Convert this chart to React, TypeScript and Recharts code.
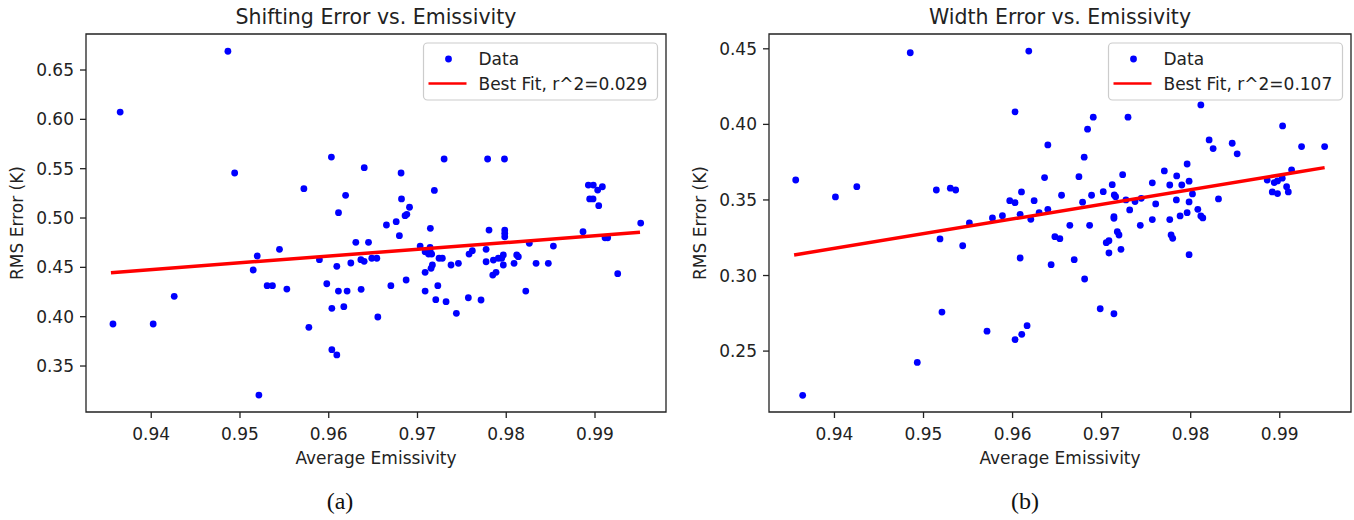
import React from 'react';
import { ScatterChart, Scatter, XAxis, YAxis, ReferenceArea } from 'recharts';

// panel (a): shifting error
const shiftX = [
  0.93569, 0.9365, 0.94022, 0.94259, 0.94864, 0.9494, 0.95149, 0.95194, 0.95213, 0.95306,
  0.95366, 0.95445, 0.95528, 0.9572, 0.95776, 0.95895, 0.95978, 0.9603, 0.96035, 0.96035,
  0.96091, 0.96091, 0.96109, 0.9611, 0.9617, 0.9619, 0.96207, 0.96249, 0.96305, 0.96362,
  0.96365, 0.96399, 0.964, 0.96448, 0.96485, 0.96542, 0.96553, 0.9665, 0.967, 0.9676,
  0.96796, 0.96815, 0.9682, 0.9686, 0.96872, 0.9688, 0.9691, 0.9703, 0.97086, 0.97086,
  0.97086, 0.97142, 0.97142, 0.97145, 0.97125, 0.9716, 0.97153, 0.97168, 0.9719, 0.97206,
  0.97229, 0.97243, 0.9728, 0.973, 0.97322, 0.97378, 0.97438, 0.97461, 0.97573, 0.97581,
  0.97618, 0.97716, 0.97773, 0.97773, 0.9779, 0.97806, 0.97848, 0.97855, 0.97885, 0.97911,
  0.97949, 0.97967, 0.97967, 0.9798, 0.97983, 0.97983, 0.97983, 0.98088, 0.98118, 0.98136,
  0.9822, 0.9826, 0.98336, 0.98474, 0.98531, 0.98865, 0.98925, 0.9894, 0.98978, 0.98981,
  0.9903, 0.99042, 0.99083, 0.99113, 0.99143, 0.99256, 0.99515,
];
const shiftY = [
  0.3926, 0.6074, 0.3926, 0.4206, 0.669, 0.5456, 0.4473, 0.4615, 0.3206, 0.4314,
  0.4314, 0.4683, 0.428, 0.5297, 0.3892, 0.4578, 0.4334, 0.5618, 0.4085, 0.3666,
  0.451, 0.3612, 0.426, 0.5054, 0.4101, 0.523, 0.426, 0.4544, 0.4754, 0.4578,
  0.4277, 0.4561, 0.551, 0.4754, 0.4592, 0.4592, 0.3997, 0.4929, 0.4314, 0.4963,
  0.4821, 0.5456, 0.5193, 0.5024, 0.4372, 0.5037, 0.5109, 0.4716, 0.4658, 0.445,
  0.426, 0.4703, 0.4669, 0.4896, 0.4635, 0.4635, 0.449, 0.4524, 0.528, 0.4172,
  0.4314, 0.4592, 0.4592, 0.5598, 0.4152, 0.4524, 0.4034, 0.4541, 0.4192, 0.4635,
  0.4669, 0.4169, 0.4683, 0.4557, 0.5598, 0.4878, 0.4422, 0.4574, 0.445, 0.4592,
  0.4592, 0.4625, 0.4524, 0.5598, 0.4878, 0.4845, 0.481, 0.4541, 0.4625, 0.4608,
  0.426, 0.4744, 0.4541, 0.4541, 0.4716, 0.4861, 0.5334, 0.5193, 0.5193, 0.5334,
  0.5283, 0.5125, 0.5317, 0.48, 0.48, 0.4436, 0.4949,
];
const shiftFitX = [0.93546, 0.99507];
const shiftFitY = [0.4446, 0.4855];

// panel (b): width error
const widthX = [
  0.93565, 0.93643, 0.94011, 0.94251, 0.94851, 0.9493, 0.95144, 0.95185, 0.95207, 0.95301,
  0.95361, 0.9544, 0.95515, 0.95713, 0.95774, 0.95886, 0.95968, 0.96028, 0.96028, 0.96028,
  0.96085, 0.96085, 0.961, 0.96103, 0.96163, 0.96182, 0.96205, 0.96242, 0.96298, 0.96359,
  0.96396, 0.96396, 0.96433, 0.96475, 0.96531, 0.9655, 0.96643, 0.96692, 0.96745, 0.96786,
  0.96804, 0.96809, 0.96842, 0.96865, 0.96887, 0.96906, 0.96984, 0.97018, 0.97052, 0.97082,
  0.97082, 0.97119, 0.97138, 0.97138, 0.97138, 0.97142, 0.97157, 0.97176, 0.97195, 0.97217,
  0.97236, 0.97273, 0.97296, 0.97315, 0.97375, 0.97434, 0.97445, 0.97569, 0.97569, 0.97607,
  0.97704, 0.97765, 0.97765, 0.9778, 0.97798, 0.97839, 0.97843, 0.97881, 0.979, 0.9796,
  0.9796, 0.97982, 0.97982, 0.97982, 0.9802, 0.9808, 0.98114, 0.98114, 0.98136, 0.98207,
  0.98252, 0.98312, 0.98466, 0.98522, 0.98859, 0.98916, 0.98938, 0.98975, 0.98975, 0.99028,
  0.99032, 0.99077, 0.99096, 0.99133, 0.99245, 0.99504,
];
const widthY = [
  0.3632, 0.2207, 0.352, 0.3588, 0.4474, 0.2425, 0.3566, 0.3242, 0.2758, 0.3578,
  0.3566, 0.3197, 0.3348, 0.2632, 0.3381, 0.3396, 0.3495, 0.3482, 0.4083, 0.2576,
  0.3405, 0.3116, 0.3553, 0.2611, 0.2668, 0.4485, 0.3372, 0.3495, 0.3416, 0.3648,
  0.3864, 0.3438, 0.3072, 0.3257, 0.3244, 0.3531, 0.3332, 0.3105, 0.3654, 0.3485,
  0.3783, 0.2977, 0.3968, 0.3332, 0.3531, 0.4048, 0.278, 0.3555, 0.3217, 0.323,
  0.3149, 0.3601, 0.339, 0.3379, 0.2747, 0.3533, 0.3522, 0.329, 0.3268, 0.3173,
  0.3667, 0.35, 0.4048, 0.3434, 0.3489, 0.3332, 0.3511, 0.3613, 0.337, 0.3474,
  0.3692, 0.3599, 0.337, 0.3268, 0.3246, 0.35, 0.3659, 0.3394, 0.3599, 0.3738,
  0.3416, 0.3624, 0.3487, 0.3138, 0.354, 0.3438, 0.4129, 0.3394, 0.3381, 0.3897,
  0.384, 0.3507, 0.3875, 0.3805, 0.3632, 0.3553, 0.3615, 0.3626, 0.3542, 0.3644,
  0.399, 0.3588, 0.3553, 0.3699, 0.3853, 0.3853,
];
const widthFitX = [0.93547, 0.99504];
const widthFitY = [0.3136, 0.3714];

const xTicks = [0.94, 0.95, 0.96, 0.97, 0.98, 0.99];
const shiftTicks = [0.35, 0.4, 0.45, 0.5, 0.55, 0.6, 0.65];
const widthTicks = [0.25, 0.3, 0.35, 0.4, 0.45];

const FONT = 'DejaVu Sans, sans-serif';
const INK = '#222';
const xDomain: [number, number] = [0.93265, 0.998];

const pairs = (xs: number[], ys: number[]) => xs.map((x, i) => ({ x, y: ys[i] }));

const Dot = (props: any) => <circle cx={props.cx} cy={props.cy} r={3.4} fill="#0000ff" />;
const NoDot = () => <g />;

function Panel({ left, width, rightPad, pts, fit, yDomain, yTicks }: any) {
  const tick = { fill: INK, fontSize: 17, fontFamily: FONT };
  return (
    <div style={{ position: 'absolute', left, top: 0 }}>
      <ScatterChart width={width} height={480} margin={{ top: 34, right: rightPad, left: 0, bottom: 28 }}>
        <XAxis
          type="number" dataKey="x" domain={xDomain} ticks={xTicks} allowDataOverflow
          height={40} axisLine={false} tickSize={6} tickMargin={10}
          tickLine={{ stroke: INK, strokeWidth: 1.3 }} tick={tick}
          tickFormatter={(v: number) => v.toFixed(2)}
        />
        <YAxis
          type="number" dataKey="y" domain={yDomain} ticks={yTicks} allowDataOverflow
          width={86} axisLine={false} tickSize={6} tickMargin={6}
          tickLine={{ stroke: INK, strokeWidth: 1.3 }} tick={tick}
          tickFormatter={(v: number) => v.toFixed(2)}
        />
        <Scatter data={pts} shape={Dot} isAnimationActive={false} />
        <Scatter data={fit} shape={NoDot} line={{ stroke: '#ff0000', strokeWidth: 3.5 }} isAnimationActive={false} />
        <ReferenceArea
          x1={xDomain[0]} x2={xDomain[1]} y1={yDomain[0]} y2={yDomain[1]}
          fill="none" fillOpacity={0} stroke={INK} strokeWidth={1.3} ifOverflow="visible"
        />
      </ScatterChart>
    </div>
  );
}

function LegendBox({ x, label }: { x: number; label: string }) {
  return (
    <g>
      <rect x={x} y={43} width={234} height={57} rx={4} fill="#fff" fillOpacity={0.8} stroke="#cccccc" strokeWidth={1.2} />
      <circle cx={x + 25} cy={59} r={3.4} fill="#0000ff" />
      <text x={x + 55} y={65} fontSize={17} fontFamily={FONT} fill={INK}>Data</text>
      <line x1={x + 5} x2={x + 43} y1={83.5} y2={83.5} stroke="#ff0000" strokeWidth={2.5} />
      <text x={x + 55} y={89.5} fontSize={17} fontFamily={FONT} fill={INK}>{label}</text>
    </g>
  );
}

export default function App() {
  return (
    <div style={{ position: 'absolute', left: 0, top: 0, width: 1354, height: 520, background: '#fff', overflow: 'hidden' }}>
      <Panel
        left={0} width={680} rightPad={14}
        pts={pairs(shiftX, shiftY)} fit={pairs(shiftFitX, shiftFitY)}
        yDomain={[0.3034, 0.6865]} yTicks={shiftTicks}
      />
      <Panel
        left={683} width={671} rightPad={3}
        pts={pairs(widthX, widthY)} fit={pairs(widthFitX, widthFitY)}
        yDomain={[0.2097, 0.4598]} yTicks={widthTicks}
      />
      <svg width={1354} height={520} style={{ position: 'absolute', left: 0, top: 0, pointerEvents: 'none' }}>
        <text x={376} y={24} textAnchor="middle" fontSize={20.5} fontFamily={FONT} fill={INK}>Shifting Error vs. Emissivity</text>
        <text x={1060} y={24} textAnchor="middle" fontSize={20.5} fontFamily={FONT} fill={INK}>Width Error vs. Emissivity</text>
        <text x={376} y={464} textAnchor="middle" fontSize={17} fontFamily={FONT} fill={INK}>Average Emissivity</text>
        <text x={1060} y={464} textAnchor="middle" fontSize={17} fontFamily={FONT} fill={INK}>Average Emissivity</text>
        <text transform="translate(23,223) rotate(-90)" textAnchor="middle" fontSize={17} fontFamily={FONT} fill={INK}>RMS Error (K)</text>
        <text transform="translate(706,223) rotate(-90)" textAnchor="middle" fontSize={17} fontFamily={FONT} fill={INK}>RMS Error (K)</text>
        <LegendBox x={423.5} label="Best Fit, r^2=0.029" />
        <LegendBox x={1108.5} label="Best Fit, r^2=0.107" />
        <text x={340} y={509} textAnchor="middle" fontSize={24} fontFamily="Liberation Serif, serif" fill="#111">(a)</text>
        <text x={1025} y={509} textAnchor="middle" fontSize={24} fontFamily="Liberation Serif, serif" fill="#111">(b)</text>
      </svg>
    </div>
  );
}
